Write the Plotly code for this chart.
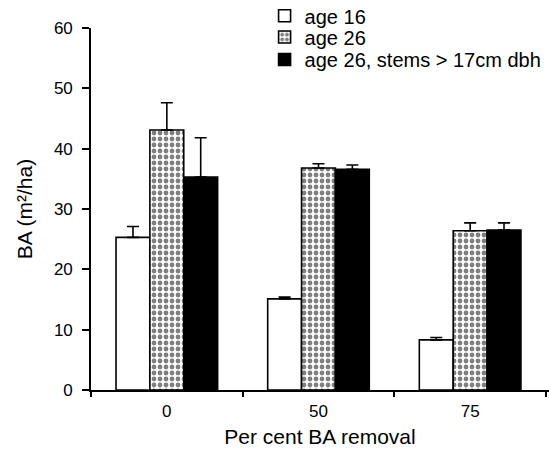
import plotly.graph_objects as go

categories = ["0", "50", "75"]
series_names = ["age 16", "age 26", "age 26, stems > 17cm dbh"]
age16 = [25.3, 15.1, 8.3]
age16_err = [1.8, 0.3, 0.4]
age26 = [43.1, 36.8, 26.4]
age26_err = [4.5, 0.7, 1.3]
age26_big = [35.3, 36.6, 26.5]
age26_big_err = [6.5, 0.7, 1.2]
y_ticks = [0, 10, 20, 30, 40, 50, 60]

FONT = "Liberation Sans, Arial, sans-serif"

def err(v):
    return dict(type="data", array=v, arrayminus=[0] * len(v), symmetric=False,
                color="black", thickness=1.6, width=6)

fig = go.Figure()
fig.add_trace(go.Bar(
    x=categories, y=age16, name=series_names[0], error_y=err(age16_err),
    marker=dict(color="white", line=dict(color="black", width=1.6)),
    legend="legend",
))
fig.add_trace(go.Bar(
    x=categories, y=age26, name=series_names[1], error_y=err(age26_err),
    marker=dict(color="white", line=dict(color="black", width=1.6),
                pattern=dict(shape=".", fgcolor="black", bgcolor="white",
                             size=6, solidity=0.5, fillmode="overlay")),
    legend="legend2",
))
fig.add_trace(go.Bar(
    x=categories, y=age26_big, name=series_names[2], error_y=err(age26_big_err),
    marker=dict(color="black", line=dict(color="black", width=1.6)),
    legend="legend3",
))

def leg(y):
    return dict(x=0.379, y=y, xanchor="left", yanchor="middle",
                bgcolor="rgba(0,0,0,0)", borderwidth=0,
                font=dict(size=20, family=FONT, color="black"), itemwidth=30)

fig.update_layout(
    width=549, height=456,
    margin=dict(l=91, r=0, t=28, b=66, autoexpand=False),
    paper_bgcolor="white", plot_bgcolor="white",
    barmode="group", bargap=0.33, bargroupgap=0,
    font=dict(family=FONT, color="black", size=17),
    showlegend=True,
    legend=leg(1.034),
    legend2=leg(0.975),
    legend3=leg(0.913),
    xaxis=dict(
        range=[-0.5, 2.52], type="category", tickson="boundaries",
        showline=True, linecolor="black", linewidth=1.6,
        ticks="outside", ticklen=5, tickwidth=1.6, tickcolor="black",
        showgrid=False, zeroline=False, automargin=False, ticklabelstandoff=5,
        title=dict(text="Per cent BA removal", font=dict(size=21), standoff=9),
        tickfont=dict(size=17),
    ),
    yaxis=dict(
        range=[0, 60], tickvals=y_ticks, ticktext=[str(t) for t in y_ticks],
        showline=True, linecolor="black", linewidth=1.6,
        ticks="outside", ticklen=7, tickwidth=1.6, tickcolor="black",
        showgrid=False, zeroline=False, ticklabelstandoff=6, automargin=False,
        title=dict(text="BA (m²/ha)", font=dict(size=21), standoff=16),
        tickfont=dict(size=17),
    ),
)

fig.write_html("out.html", config={"displayModeBar": False},
               post_script="document.body.style.margin='0';")
